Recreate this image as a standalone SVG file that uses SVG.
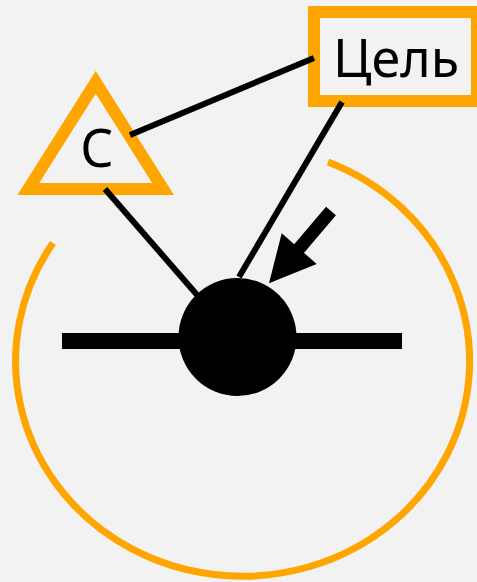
<svg xmlns="http://www.w3.org/2000/svg" width="477" height="582" viewBox="0 0 477 582">
  <style>
    .frame { fill: #f2f2f2; stroke: #ffa500; stroke-width: 12; }
    .label { font-family: "Noto Sans", "DejaVu Sans", sans-serif; font-size: 52px; fill: #000; text-anchor: middle; }
    .conn { stroke: #000; stroke-width: 6; fill: none; }
    .orbit { stroke: #ffa500; stroke-width: 7; fill: none; }
  </style>
  <rect x="0" y="0" width="477" height="582" fill="#f2f2f2"/>
  <g id="orbit">
    <path class="orbit" d="M 53 243 A 227 215 0 1 0 328 162"/>
  </g>
  <g id="goal">
    <rect class="frame" x="314" y="12" width="163" height="89"/>
    <text class="label" x="396" y="77">Цель</text>
  </g>
  <g id="c-node">
    <polygon class="frame" points="95.7,82.2 163.1,189 28.3,189"/>
    <text class="label" x="97" y="167">С</text>
  </g>
  <g id="connectors">
    <line class="conn" x1="130" y1="135" x2="314" y2="58"/>
    <line class="conn" x1="342" y1="102" x2="239" y2="277"/>
    <line class="conn" x1="105" y1="189" x2="198" y2="296"/>
  </g>
  <g id="hub">
    <line x1="62" y1="341" x2="402" y2="341" stroke="#000" stroke-width="16"/>
    <circle cx="237.5" cy="337" r="59" fill="#000"/>
  </g>
  <g id="arrow">
    <line x1="331" y1="211" x2="297" y2="251" stroke="#000" stroke-width="13"/>
    <polygon points="281.7,233.3 316.7,264 269,283.3" fill="#000"/>
  </g>
</svg>
